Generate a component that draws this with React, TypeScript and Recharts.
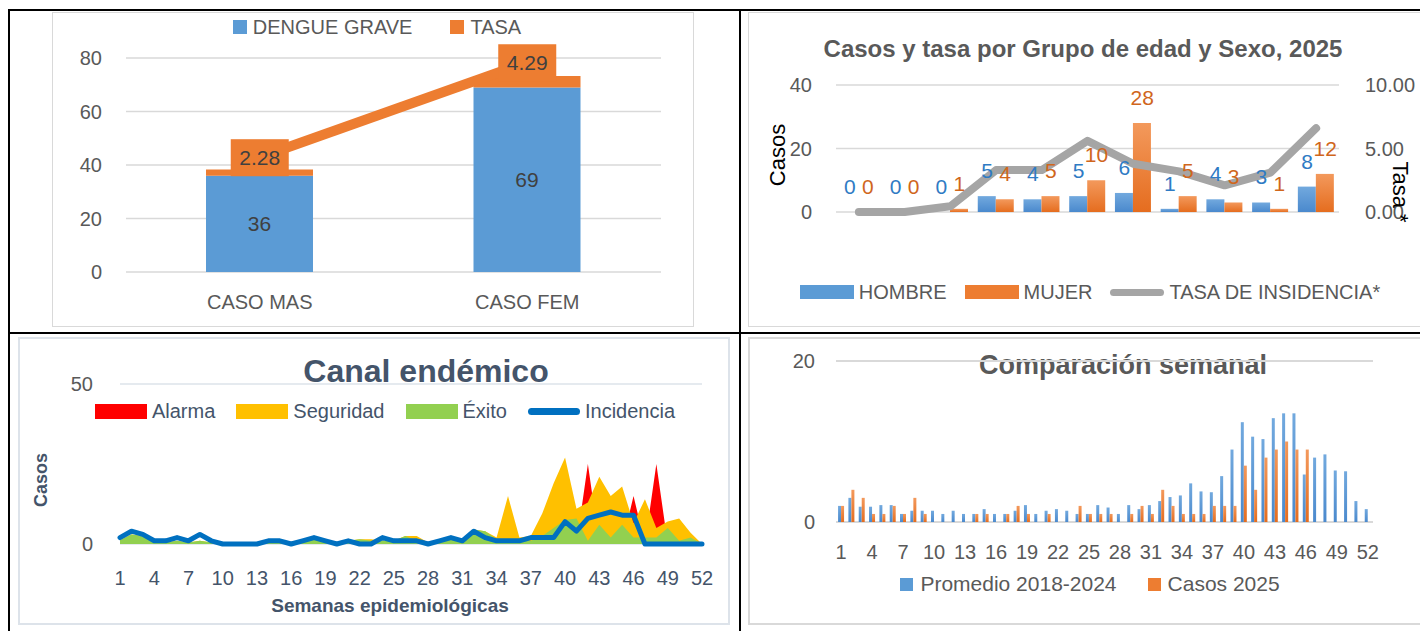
import React from 'react';
import {
  ComposedChart,
  BarChart,
  Bar,
  Line,
  Area,
  XAxis,
  YAxis,
  CartesianGrid,
  Legend,
  LabelList,
} from 'recharts';

const FONT = '"Liberation Sans", Arial, sans-serif';
const GRAY = '#595959';
const SLATE = '#44546a';
const BLUE = '#5b9bd5';
const ORANGE = '#ed7d31';

// --- Dengue grave por sexo
const sexCategories = ['CASO MAS', 'CASO FEM'];
const dengueGrave = [36, 69];
const sexTasa = [2.28, 4.29];

// --- Casos y tasa por grupo de edad y sexo, 2025
const ageGroups = ['< 1', '1 - 4', '5 - 9', '10 - 14', '15 - 19', '20 - 29', '30 - 39', '40 - 49', '50 - 59', '60 - 64', '65 +'];
const hombre = [0, 0, 0, 5, 4, 5, 6, 1, 4, 3, 8];
const mujer = [0, 0, 1, 4, 5, 10, 28, 5, 3, 1, 12];
const tasaIncidencia = [0, 0, 0.45, 3.3, 3.3, 5.6, 3.8, 3.2, 2.1, 3.1, 6.6];

// --- Semanas epidemiologicas
const weeks = [
  1, 2, 3, 4, 5, 6, 7, 8, 9, 10, 11, 12, 13, 14, 15, 16, 17, 18, 19, 20, 21, 22, 23, 24, 25, 26,
  27, 28, 29, 30, 31, 32, 33, 34, 35, 36, 37, 38, 39, 40, 41, 42, 43, 44, 45, 46, 47, 48, 49, 50, 51, 52,
];
const casos2025 = [
  2, 4, 3, 1, 1, 2, 1, 3, 1, 0, 0, 0, 0, 1, 1, 0, 1, 2, 1, 0, 1, 0, 0, 2, 1, 1,
  1, 0, 1, 2, 1, 4, 2, 1, 1, 1, 2, 2, 2, 7, 4, 8, 9, 10, 9, 9, 0, 0, 0, 0, 0, 0,
];
const promedio = [
  2.0, 3.0, 1.9, 1.9, 2.1, 2.1, 1.0, 1.4, 1.4, 1.4, 1.0, 1.4, 1.0, 1.0, 1.6, 1.0, 1.0, 1.4, 2.1, 1.0, 1.4, 1.6, 1.4, 1.0, 1.0, 2.1,
  1.8, 1.0, 2.1, 1.6, 2.1, 2.6, 3.1, 3.3, 4.8, 3.8, 3.7, 5.7, 9.0, 12.4, 10.6, 10.3, 12.9, 13.5, 13.5, 5.9, 8.0, 8.4, 6.4, 6.3, 2.6, 1.6,
];
const alarma = [
  0, 0, 0, 0, 0, 0, 0, 0, 0, 0, 0, 0, 0, 0, 0, 0, 0, 0, 0, 0, 0, 0, 0, 0, 0, 0,
  0, 0, 0, 0, 0, 0, 0, 0, 0, 0, 0, 0, 0, 0, 0, 25, 0, 0, 0, 15, 0, 25, 0, 0, 0, 0,
];
const seguridad = [
  1.2, 3, 2.5, 1, 0.5, 1, 0.5, 1, 0.5, 0, 0, 0, 0, 0.5, 0.5, 0, 0.8, 1.5, 1, 0.5, 1, 1.5, 1.5, 1, 1, 2.5,
  2.5, 0.5, 1, 1.5, 1.5, 4.5, 4, 2, 15, 2, 2.5, 9.5, 19, 27, 11, 13, 21, 15, 18, 6.5, 14, 5, 7, 8, 3.5, 0,
];
const exito = [
  1.2, 3, 2.5, 1, 0.5, 1, 0.5, 1, 0.5, 0, 0, 0, 0, 0.5, 0.5, 0, 0.8, 1.5, 1, 0.5, 1, 1.5, 1, 1, 1, 2.5,
  1, 0.5, 1, 1.5, 1.5, 4.5, 4, 1.5, 1, 1, 1, 2.5, 5, 7.5, 8, 1, 6, 2, 6, 2, 2, 2, 5, 1, 2, 0,
];

const sexData = sexCategories.map((name, i) => ({ name, dengue: dengueGrave[i], tasa: sexTasa[i] }));
const ageData = ageGroups.map((grupo, i) => ({ grupo, hombre: hombre[i], mujer: mujer[i], tasa: tasaIncidencia[i] }));
const weekData = weeks.map((week, i) => ({
  week,
  alarma: alarma[i],
  seguridad: seguridad[i],
  exito: exito[i],
  casos: casos2025[i],
  promedio: promedio[i],
}));

type LegendItem = { name: string; color: string; line?: boolean };

const LegendRow = ({ items, fontSize, color, markW, markH, gap, itemGap }: any) => (
  <div
    style={{
      display: 'flex',
      justifyContent: 'center',
      alignItems: 'center',
      fontFamily: FONT,
      fontSize,
      color,
      whiteSpace: 'nowrap',
      height: 26,
    }}
  >
    {items.map((it: LegendItem, i: number) => (
      <div key={it.name} style={{ display: 'flex', alignItems: 'center', marginLeft: i ? itemGap : 0 }}>
        <span
          style={{
            display: 'inline-block',
            width: markW,
            height: it.line ? 7 : markH,
            borderRadius: it.line ? 4 : 0,
            background: it.color,
            marginRight: gap,
          }}
        />
        <span>{it.name}</span>
      </div>
    ))}
  </div>
);

const legendPos = (cx: number, cy: number) => ({ left: cx - 350, width: 700, top: cy - 13 });

const tickStyle = (fill: string, size = 20) => ({ fill, fontSize: size, fontFamily: FONT });

const TasaBox = (props: any) => {
  const { x, y, value } = props;
  if (x == null || y == null) return null;
  return (
    <g>
      <rect x={x - 29} y={y - 18} width={58} height={37} fill={ORANGE} />
      <text x={x} y={y + 8} textAnchor="middle" fontSize={21} fill="#404040" fontFamily={FONT}>
        {Number(value).toFixed(2)}
      </text>
    </g>
  );
};

// value labels above the bars of the age chart (shifted onto each bar of the pair)
const barLabel = (dx: number, color: string) => (props: any) => {
  const { x, y, value } = props;
  if (x == null || y == null) return null;
  return (
    <text x={x + dx} y={y - 18} textAnchor="middle" fontSize={21} fill={color} fontFamily={FONT}>
      {value}
    </text>
  );
};

const Title = ({ text, cx, top, size, color }: any) => (
  <div
    style={{
      position: 'absolute',
      left: cx - 350,
      width: 700,
      top,
      textAlign: 'center',
      fontFamily: FONT,
      fontWeight: 'bold',
      fontSize: size,
      lineHeight: 1,
      color,
      whiteSpace: 'nowrap',
    }}
  >
    {text}
  </div>
);

const VText = ({ text, cx, cy, size, color, bold, angle }: any) => (
  <div
    style={{
      position: 'absolute',
      left: cx - 100,
      top: cy - size / 2,
      width: 200,
      textAlign: 'center',
      fontFamily: FONT,
      fontSize: size,
      fontWeight: bold ? 'bold' : 'normal',
      lineHeight: 1,
      color,
      transform: `rotate(${angle}deg)`,
      whiteSpace: 'nowrap',
    }}
  >
    {text}
  </div>
);

const Box = ({ x, y, w, h, color, bw }: any) => (
  <div style={{ position: 'absolute', left: x, top: y, width: w, height: h, border: `${bw}px solid ${color}`, boxSizing: 'border-box' }} />
);

const HLine = ({ x, y, w }: any) => <div style={{ position: 'absolute', left: x, top: y, width: w, height: 2, background: '#000' }} />;
const VLine = ({ x, y, h }: any) => <div style={{ position: 'absolute', left: x, top: y, width: 2, height: h, background: '#000' }} />;

const Gradients = () => (
  <defs>
    <linearGradient id="gBlue" x1="0" y1="0" x2="0" y2="1">
      <stop offset="0%" stopColor="#72a9de" />
      <stop offset="100%" stopColor="#4a89cd" />
    </linearGradient>
    <linearGradient id="gOrange" x1="0" y1="0" x2="0" y2="1">
      <stop offset="0%" stopColor="#f3995c" />
      <stop offset="100%" stopColor="#e56d1f" />
    </linearGradient>
  </defs>
);

export default function App() {
  return (
    <div style={{ position: 'absolute', left: 0, top: 0, width: 1420, height: 631, background: '#fff', fontFamily: FONT, overflow: 'hidden' }}>
      {/* table frame */}
      <HLine x={8} y={9} w={1412} />
      <HLine x={8} y={332} w={1412} />
      <VLine x={8} y={9} h={622} />
      <VLine x={739} y={9} h={622} />

      {/* panel borders */}
      <Box x={52} y={12} w={642} h={315} color="#d9d9d9" bw={1} />
      <Box x={748} y={12} w={680} h={315} color="#d9d9d9" bw={1} />
      <Box x={18} y={337} w={712} h={288} color="#dde3ea" bw={2} />
      <Box x={748} y={337} w={680} h={288} color="#d9d9d9" bw={2} />

      {/* Panel 1: dengue grave por sexo */}
      <div style={{ position: 'absolute', left: 52, top: 12 }}>
        <ComposedChart width={642} height={314} data={sexData} margin={{ top: 46, right: 33, bottom: 0, left: 0 }} barSize={107}>
          <CartesianGrid yAxisId="l" vertical={false} stroke="#d9d9d9" strokeWidth={1.5} />
          <XAxis dataKey="name" axisLine={false} tickLine={false} height={54} tickMargin={17} tick={tickStyle(GRAY)} />
          <YAxis yAxisId="l" domain={[0, 80]} ticks={[0, 20, 40, 60, 80]} width={74} axisLine={false} tickLine={false} tickMargin={18} tick={tickStyle(GRAY)} />
          <YAxis yAxisId="r" hide domain={[-0.15, 4.38]} />
          <Bar yAxisId="l" dataKey="dengue" stackId="s" fill={BLUE} isAnimationActive={false}>
            <LabelList dataKey="dengue" position="center" fill="#404040" fontSize={21} fontFamily={FONT} />
          </Bar>
          <Bar yAxisId="l" dataKey="tasa" stackId="s" fill={ORANGE} isAnimationActive={false} />
          <Line yAxisId="r" dataKey="tasa" stroke={ORANGE} strokeWidth={10} dot={false} isAnimationActive={false} label={TasaBox} />
          <Legend
            verticalAlign="middle"
            align="center"
            layout="horizontal"
            wrapperStyle={legendPos(325, 15)}
            content={() => (
              <LegendRow
                items={[
                  { name: 'DENGUE GRAVE', color: BLUE },
                  { name: 'TASA', color: ORANGE },
                ]}
                fontSize={20}
                color={GRAY}
                markW={14}
                markH={14}
                gap={6}
                itemGap={38}
              />
            )}
          />
        </ComposedChart>
      </div>

      {/* Panel 2: grupo de edad y sexo */}
      <Title text="Casos y tasa por Grupo de edad y Sexo, 2025" cx={1083} top={37} size={24} color={GRAY} />
      <div style={{ position: 'absolute', left: 748, top: 12 }}>
        <ComposedChart width={672} height={315} data={ageData} margin={{ top: 73, right: 0, bottom: 115, left: 0 }} barGap={0} barCategoryGap="10%">
          <Gradients />
          <CartesianGrid yAxisId="l" vertical={false} stroke="#d9d9d9" strokeWidth={1.5} />
          <XAxis dataKey="grupo" hide />
          <YAxis yAxisId="l" domain={[0, 40]} ticks={[0, 20, 40]} width={88} axisLine={false} tickLine={false} tickMargin={18} tick={tickStyle(GRAY)} />
          <YAxis
            yAxisId="r"
            orientation="right"
            domain={[0, 10]}
            ticks={[0, 5, 10]}
            tickFormatter={(v: number) => v.toFixed(2)}
            width={81}
            axisLine={false}
            tickLine={false}
            tickMargin={20}
            tick={tickStyle(GRAY)}
          />
          <Bar yAxisId="l" dataKey="hombre" fill="url(#gBlue)" isAnimationActive={false} />
          <Bar yAxisId="l" dataKey="mujer" fill="url(#gOrange)" isAnimationActive={false} />
          <Line yAxisId="r" dataKey="tasa" stroke="#a5a5a5" strokeWidth={8} strokeLinejoin="round" strokeLinecap="round" dot={false} isAnimationActive={false} />
          {/* invisible carriers for the value labels */}
          <Line yAxisId="l" dataKey="hombre" stroke="none" dot={false} legendType="none" isAnimationActive={false} label={barLabel(-9, '#2f7bc4')} />
          <Line yAxisId="l" dataKey="mujer" stroke="none" dot={false} legendType="none" isAnimationActive={false} label={barLabel(9, '#d0661c')} />
          <Legend
            verticalAlign="middle"
            align="center"
            layout="horizontal"
            wrapperStyle={legendPos(342, 280)}
            content={() => (
              <LegendRow
                items={[
                  { name: 'HOMBRE', color: BLUE },
                  { name: 'MUJER', color: ORANGE },
                  { name: 'TASA DE INSIDENCIA*', color: '#a5a5a5', line: true },
                ]}
                fontSize={20}
                color={GRAY}
                markW={54}
                markH={14}
                gap={5}
                itemGap={18}
              />
            )}
          />
        </ComposedChart>
      </div>
      <VText text="Casos" cx={778} cy={155} size={22} color="#000" angle={-90} />
      <VText text="Tasa *" cx={1400} cy={192} size={22} color="#000" angle={90} />

      {/* Panel 3: canal endemico */}
      <Title text="Canal endémico" cx={426} top={355} size={32} color={SLATE} />
      <div style={{ position: 'absolute', left: 18, top: 337 }}>
        <ComposedChart width={712} height={287} data={weekData} margin={{ top: 47, right: 28, bottom: 0, left: 0 }}>
          <CartesianGrid vertical={false} stroke="#dde3ea" strokeWidth={1.5} />
          <XAxis dataKey="week" scale="point" interval={2} height={80} axisLine={false} tickLine={false} tickMargin={21} tick={tickStyle(SLATE)} />
          <YAxis domain={[0, 50]} ticks={[0, 50]} width={102} axisLine={false} tickLine={false} tickMargin={21} tick={tickStyle(GRAY)} />
          <Area dataKey="alarma" type="linear" fill="#ff0000" fillOpacity={1} stroke="none" isAnimationActive={false} />
          <Area dataKey="seguridad" type="linear" fill="#ffc000" fillOpacity={1} stroke="none" isAnimationActive={false} />
          <Area dataKey="exito" type="linear" fill="#92d050" fillOpacity={1} stroke="none" isAnimationActive={false} />
          <Line dataKey="casos" type="linear" stroke="#0070c0" strokeWidth={5} strokeLinejoin="round" strokeLinecap="round" dot={false} isAnimationActive={false} />
          <Legend
            verticalAlign="middle"
            align="center"
            layout="horizontal"
            wrapperStyle={legendPos(367, 74)}
            content={() => (
              <LegendRow
                items={[
                  { name: 'Alarma', color: '#ff0000' },
                  { name: 'Seguridad', color: '#ffc000' },
                  { name: 'Éxito', color: '#92d050' },
                  { name: 'Incidencia', color: '#0070c0', line: true },
                ]}
                fontSize={20}
                color={SLATE}
                markW={52}
                markH={15}
                gap={5}
                itemGap={21}
              />
            )}
          />
        </ComposedChart>
      </div>
      <VText text="Casos" cx={41} cy={480} size={18} color={SLATE} bold angle={-90} />
      <Title text="Semanas epidemiológicas" cx={390} top={596} size={19} color={SLATE} />

      {/* Panel 4: comparacion semanal */}
      <Title text="Comparación semanal" cx={1123} top={352} size={27} color={GRAY} />
      <div style={{ position: 'absolute', left: 748, top: 337 }}>
        <BarChart width={672} height={287} data={weekData} margin={{ top: 24, right: 47, bottom: 0, left: 0 }} barGap={0} barCategoryGap="20%">
          <Gradients />
          <CartesianGrid vertical={false} stroke="#d9d9d9" strokeWidth={2} />
          <XAxis dataKey="week" interval={2} height={102} axisLine={false} tickLine={false} tickMargin={17} tick={tickStyle(GRAY)} />
          <YAxis domain={[0, 20]} ticks={[0, 20]} width={88} axisLine={false} tickLine={false} tickMargin={15} tick={tickStyle(GRAY)} />
          <Bar dataKey="promedio" name="Promedio 2018-2024" fill="url(#gBlue)" isAnimationActive={false} />
          <Bar dataKey="casos" name="Casos 2025" fill="url(#gOrange)" isAnimationActive={false} />
          <Legend
            verticalAlign="middle"
            align="center"
            layout="horizontal"
            wrapperStyle={legendPos(342, 247)}
            content={() => (
              <LegendRow
                items={[
                  { name: 'Promedio 2018-2024', color: BLUE },
                  { name: 'Casos 2025', color: ORANGE },
                ]}
                fontSize={21}
                color={GRAY}
                markW={13}
                markH={13}
                gap={7}
                itemGap={31}
              />
            )}
          />
        </BarChart>
      </div>
    </div>
  );
}
